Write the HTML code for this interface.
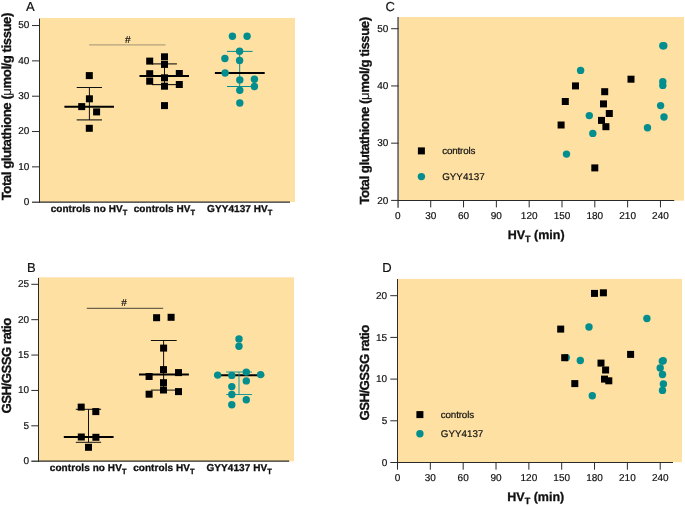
<!DOCTYPE html>
<html><head><meta charset="utf-8"><style>
html,body{margin:0;padding:0;background:#fff;}
body{width:685px;height:506px;overflow:hidden;}
svg{display:block;will-change:transform;}
text{font-family:"Liberation Sans", sans-serif;fill:#111;text-rendering:geometricPrecision;stroke:#111;stroke-width:0.2;}
.b{stroke-width:0.3;}
</style></head><body>
<svg width="685" height="506" viewBox="0 0 685 506">
<rect x="40" y="18" width="255" height="184" fill="#fde0a2"/>
<text x="26" y="10.6" font-size="13" text-anchor="start" font-weight="normal" >A</text>
<line x1="32" y1="202.2" x2="39.5" y2="202.2" stroke="#2a2a2a" stroke-width="1.2"/>
<text x="29.3" y="205.1" font-size="10" text-anchor="end" font-weight="normal" >0</text>
<line x1="32" y1="166.87" x2="39.5" y2="166.87" stroke="#2a2a2a" stroke-width="1"/>
<text x="29.3" y="169.77" font-size="10" text-anchor="end" font-weight="normal" >10</text>
<line x1="32" y1="131.54" x2="39.5" y2="131.54" stroke="#2a2a2a" stroke-width="1"/>
<text x="29.3" y="134.44" font-size="10" text-anchor="end" font-weight="normal" >20</text>
<line x1="32" y1="96.21" x2="39.5" y2="96.21" stroke="#2a2a2a" stroke-width="1"/>
<text x="29.3" y="99.11" font-size="10" text-anchor="end" font-weight="normal" >30</text>
<line x1="32" y1="60.88" x2="39.5" y2="60.88" stroke="#2a2a2a" stroke-width="1"/>
<text x="29.3" y="63.78" font-size="10" text-anchor="end" font-weight="normal" >40</text>
<line x1="32" y1="25.55" x2="39.5" y2="25.55" stroke="#2a2a2a" stroke-width="1"/>
<text x="29.3" y="28.45" font-size="10" text-anchor="end" font-weight="normal" >50</text>
<line x1="39.5" y1="18.6" x2="39.5" y2="202.8" stroke="#2a2a2a" stroke-width="1"/>
<line x1="39" y1="202.2" x2="290" y2="202.2" stroke="#2a2a2a" stroke-width="1.2"/>
<text transform="translate(11.2,200.3) rotate(-90)" font-size="13.2" letter-spacing="-0.455" font-weight="bold" class="b">Total glutathione (<tspan font-weight="normal" stroke-width="0.12">&#956;</tspan>mol/g tissue)</text>
<text x="89" y="212" font-size="10" text-anchor="middle" font-weight="bold" class="b" letter-spacing="0.07">controls no HV<tspan font-size="7.5" dy="2.6">T</tspan></text>
<text x="164.5" y="212" font-size="10" text-anchor="middle" font-weight="bold" class="b" letter-spacing="0.07">controls HV<tspan font-size="7.5" dy="2.6">T</tspan></text>
<text x="239.75" y="212" font-size="10" text-anchor="middle" font-weight="bold" class="b" letter-spacing="0.07">GYY4137 HV<tspan font-size="7.5" dy="2.6">T</tspan></text>
<line x1="89.2" y1="44.9" x2="165.5" y2="44.9" stroke="#b5a27c" stroke-width="1.3"/>
<text x="127.8" y="42.5" font-size="10" text-anchor="middle" font-weight="normal" >#</text>
<line x1="76.7" y1="87.5" x2="102" y2="87.5" stroke="#111" stroke-width="1"/>
<line x1="76.7" y1="119.9" x2="102" y2="119.9" stroke="#111" stroke-width="1.1"/>
<line x1="89.4" y1="87.5" x2="89.4" y2="119.9" stroke="#111" stroke-width="1"/>
<rect x="85.80" y="72.10" width="7.0" height="7.0" fill="#000"/>
<rect x="85.90" y="95.30" width="7.0" height="7.0" fill="#000"/>
<rect x="78.20" y="103.10" width="7.0" height="7.0" fill="#000"/>
<rect x="93.10" y="108.40" width="7.0" height="7.0" fill="#000"/>
<rect x="85.80" y="124.80" width="7.0" height="7.0" fill="#000"/>
<line x1="64.4" y1="106.8" x2="114" y2="106.8" stroke="#000" stroke-width="2"/>
<line x1="151.9" y1="63.9" x2="176.9" y2="63.9" stroke="#111" stroke-width="1.1"/>
<line x1="151.9" y1="84.6" x2="176.9" y2="84.6" stroke="#111" stroke-width="1.1"/>
<line x1="164.5" y1="63.9" x2="164.5" y2="84.6" stroke="#111" stroke-width="1"/>
<rect x="146.20" y="57.60" width="7.0" height="7.0" fill="#000"/>
<rect x="161.00" y="53.30" width="7.0" height="7.0" fill="#000"/>
<rect x="161.00" y="60.90" width="7.0" height="7.0" fill="#000"/>
<rect x="146.20" y="70.20" width="7.0" height="7.0" fill="#000"/>
<rect x="146.20" y="77.70" width="7.0" height="7.0" fill="#000"/>
<rect x="161.00" y="74.30" width="7.0" height="7.0" fill="#000"/>
<rect x="161.00" y="82.70" width="7.0" height="7.0" fill="#000"/>
<rect x="175.80" y="70.00" width="7.0" height="7.0" fill="#000"/>
<rect x="175.80" y="81.00" width="7.0" height="7.0" fill="#000"/>
<rect x="161.00" y="102.10" width="7.0" height="7.0" fill="#000"/>
<line x1="139.5" y1="76" x2="189" y2="76" stroke="#000" stroke-width="2"/>
<line x1="227" y1="51.4" x2="252.6" y2="51.4" stroke="#028e8e" stroke-width="1"/>
<line x1="227" y1="86.5" x2="252.6" y2="86.5" stroke="#028e8e" stroke-width="1"/>
<line x1="239.7" y1="51.4" x2="239.7" y2="86.5" stroke="#028e8e" stroke-width="1"/>
<line x1="214.9" y1="73" x2="264.7" y2="73" stroke="#000" stroke-width="2"/>
<circle cx="232.40" cy="36.30" r="3.7" fill="#028e8e"/>
<circle cx="247.10" cy="36.30" r="3.7" fill="#028e8e"/>
<circle cx="239.60" cy="51.30" r="3.7" fill="#028e8e"/>
<circle cx="224.90" cy="58.50" r="3.7" fill="#028e8e"/>
<circle cx="239.60" cy="60.50" r="3.7" fill="#028e8e"/>
<circle cx="225.10" cy="73.00" r="3.7" fill="#028e8e"/>
<circle cx="239.80" cy="79.90" r="3.7" fill="#028e8e"/>
<circle cx="254.40" cy="79.20" r="3.7" fill="#028e8e"/>
<circle cx="254.40" cy="86.50" r="3.7" fill="#028e8e"/>
<circle cx="239.80" cy="90.30" r="3.7" fill="#028e8e"/>
<circle cx="239.80" cy="103.00" r="3.7" fill="#028e8e"/>
<rect x="39" y="277.3" width="255" height="184" fill="#fde0a2"/>
<text x="27" y="271.8" font-size="13" text-anchor="start" font-weight="normal" >B</text>
<line x1="31.3" y1="461.2" x2="38.5" y2="461.2" stroke="#2a2a2a" stroke-width="1.3"/>
<text x="29" y="464.2" font-size="10" text-anchor="end" font-weight="normal" >0</text>
<line x1="31.3" y1="425.82" x2="38.5" y2="425.82" stroke="#2a2a2a" stroke-width="1"/>
<text x="29" y="428.82" font-size="10" text-anchor="end" font-weight="normal" >5</text>
<line x1="31.3" y1="390.44" x2="38.5" y2="390.44" stroke="#2a2a2a" stroke-width="1"/>
<text x="29" y="393.44" font-size="10" text-anchor="end" font-weight="normal" >10</text>
<line x1="31.3" y1="355.06" x2="38.5" y2="355.06" stroke="#2a2a2a" stroke-width="1"/>
<text x="29" y="358.06" font-size="10" text-anchor="end" font-weight="normal" >15</text>
<line x1="31.3" y1="319.68" x2="38.5" y2="319.68" stroke="#2a2a2a" stroke-width="1"/>
<text x="29" y="322.68" font-size="10" text-anchor="end" font-weight="normal" >20</text>
<line x1="31.3" y1="284.3" x2="38.5" y2="284.3" stroke="#2a2a2a" stroke-width="1"/>
<text x="29" y="287.3" font-size="10" text-anchor="end" font-weight="normal" >25</text>
<line x1="38.5" y1="277.9" x2="38.5" y2="461.9" stroke="#2a2a2a" stroke-width="1"/>
<line x1="38" y1="461.2" x2="289.2" y2="461.2" stroke="#2a2a2a" stroke-width="1.3"/>
<text transform="translate(10.6,413.4) rotate(-90)" font-size="13.2" letter-spacing="-0.53" font-weight="bold" class="b">GSH/GSSG ratio</text>
<text x="88.2" y="471.1" font-size="10" text-anchor="middle" font-weight="bold" class="b" letter-spacing="0.07">controls no HV<tspan font-size="7.5" dy="2.6">T</tspan></text>
<text x="163.9" y="471.1" font-size="10" text-anchor="middle" font-weight="bold" class="b" letter-spacing="0.07">controls HV<tspan font-size="7.5" dy="2.6">T</tspan></text>
<text x="239.2" y="471.1" font-size="10" text-anchor="middle" font-weight="bold" class="b" letter-spacing="0.07">GYY4137 HV<tspan font-size="7.5" dy="2.6">T</tspan></text>
<line x1="86.8" y1="308.3" x2="163.2" y2="308.3" stroke="#4a4438" stroke-width="1"/>
<text x="124" y="305.5" font-size="10" text-anchor="middle" font-weight="normal" >#</text>
<line x1="75.8" y1="409.3" x2="101.1" y2="409.3" stroke="#111" stroke-width="1"/>
<line x1="75.8" y1="442.3" x2="101.1" y2="442.3" stroke="#111" stroke-width="1"/>
<line x1="88.5" y1="409.3" x2="88.5" y2="442.3" stroke="#111" stroke-width="1"/>
<rect x="77.70" y="403.60" width="7.0" height="7.0" fill="#000"/>
<rect x="92.30" y="408.10" width="7.0" height="7.0" fill="#000"/>
<rect x="77.80" y="433.50" width="7.0" height="7.0" fill="#000"/>
<rect x="92.40" y="433.80" width="7.0" height="7.0" fill="#000"/>
<rect x="85.00" y="443.80" width="7.0" height="7.0" fill="#000"/>
<line x1="63.8" y1="437" x2="113.6" y2="437" stroke="#000" stroke-width="2"/>
<line x1="150.9" y1="340.5" x2="176.7" y2="340.5" stroke="#111" stroke-width="1"/>
<line x1="150.9" y1="390.1" x2="176.7" y2="390.1" stroke="#111" stroke-width="1"/>
<line x1="163.6" y1="340.5" x2="163.6" y2="390.1" stroke="#111" stroke-width="1"/>
<rect x="153.10" y="314.20" width="7.0" height="7.0" fill="#000"/>
<rect x="167.60" y="313.80" width="7.0" height="7.0" fill="#000"/>
<rect x="160.10" y="344.60" width="7.0" height="7.0" fill="#000"/>
<rect x="160.00" y="366.10" width="7.0" height="7.0" fill="#000"/>
<rect x="175.00" y="369.10" width="7.0" height="7.0" fill="#000"/>
<rect x="145.60" y="373.00" width="7.0" height="7.0" fill="#000"/>
<rect x="160.00" y="379.20" width="7.0" height="7.0" fill="#000"/>
<rect x="160.00" y="386.50" width="7.0" height="7.0" fill="#000"/>
<rect x="145.60" y="390.70" width="7.0" height="7.0" fill="#000"/>
<rect x="175.00" y="388.10" width="7.0" height="7.0" fill="#000"/>
<line x1="139" y1="374.5" x2="188.9" y2="374.5" stroke="#000" stroke-width="2"/>
<line x1="214.3" y1="375.3" x2="264.2" y2="375.3" stroke="#000" stroke-width="2"/>
<line x1="226.2" y1="372" x2="252" y2="372" stroke="#028e8e" stroke-width="0.9"/>
<line x1="226.2" y1="394.5" x2="252" y2="394.5" stroke="#028e8e" stroke-width="0.9"/>
<line x1="239" y1="372" x2="239" y2="394.5" stroke="#028e8e" stroke-width="0.9"/>
<circle cx="239.00" cy="338.90" r="3.7" fill="#028e8e"/>
<circle cx="239.00" cy="346.20" r="3.7" fill="#028e8e"/>
<circle cx="217.70" cy="375.10" r="3.7" fill="#028e8e"/>
<circle cx="231.80" cy="375.40" r="3.7" fill="#028e8e"/>
<circle cx="246.30" cy="372.10" r="3.7" fill="#028e8e"/>
<circle cx="260.60" cy="374.60" r="3.7" fill="#028e8e"/>
<circle cx="246.30" cy="380.90" r="3.7" fill="#028e8e"/>
<circle cx="231.80" cy="386.60" r="3.7" fill="#028e8e"/>
<circle cx="231.80" cy="394.50" r="3.7" fill="#028e8e"/>
<circle cx="246.30" cy="399.80" r="3.7" fill="#028e8e"/>
<circle cx="231.80" cy="404.70" r="3.7" fill="#028e8e"/>
<rect x="399" y="17" width="285" height="183.7" fill="#fde0a2"/>
<text x="385.6" y="10.9" font-size="13" text-anchor="start" font-weight="normal" >C</text>
<line x1="391.1" y1="200.4" x2="398.5" y2="200.4" stroke="#2a2a2a" stroke-width="1"/>
<text x="388.4" y="203.6" font-size="10" text-anchor="end" font-weight="normal" >20</text>
<line x1="391.1" y1="143.17" x2="398.5" y2="143.17" stroke="#2a2a2a" stroke-width="1"/>
<text x="388.4" y="146.37" font-size="10" text-anchor="end" font-weight="normal" >30</text>
<line x1="391.1" y1="85.94" x2="398.5" y2="85.94" stroke="#2a2a2a" stroke-width="1"/>
<text x="388.4" y="89.14" font-size="10" text-anchor="end" font-weight="normal" >40</text>
<line x1="391.1" y1="28.71" x2="398.5" y2="28.71" stroke="#2a2a2a" stroke-width="1"/>
<text x="388.4" y="31.91" font-size="10" text-anchor="end" font-weight="normal" >50</text>
<line x1="398.05" y1="17" x2="398.05" y2="207.7" stroke="#2a2a2a" stroke-width="1.2"/>
<line x1="398" y1="200.5" x2="674.2" y2="200.5" stroke="#2a2a2a" stroke-width="1.2"/>
<text x="397.9" y="218.8" font-size="10" text-anchor="middle" font-weight="normal" >0</text>
<line x1="430.72" y1="200.5" x2="430.72" y2="207.4" stroke="#2a2a2a" stroke-width="1"/>
<text x="430.72" y="218.8" font-size="10" text-anchor="middle" font-weight="normal" >30</text>
<line x1="463.54" y1="200.5" x2="463.54" y2="207.4" stroke="#2a2a2a" stroke-width="1"/>
<text x="463.54" y="218.8" font-size="10" text-anchor="middle" font-weight="normal" >60</text>
<line x1="496.36" y1="200.5" x2="496.36" y2="207.4" stroke="#2a2a2a" stroke-width="1"/>
<text x="496.36" y="218.8" font-size="10" text-anchor="middle" font-weight="normal" >90</text>
<line x1="529.18" y1="200.5" x2="529.18" y2="207.4" stroke="#2a2a2a" stroke-width="1"/>
<text x="529.18" y="218.8" font-size="10" text-anchor="middle" font-weight="normal" >120</text>
<line x1="562" y1="200.5" x2="562" y2="207.4" stroke="#2a2a2a" stroke-width="1"/>
<text x="562" y="218.8" font-size="10" text-anchor="middle" font-weight="normal" >150</text>
<line x1="594.82" y1="200.5" x2="594.82" y2="207.4" stroke="#2a2a2a" stroke-width="1"/>
<text x="594.82" y="218.8" font-size="10" text-anchor="middle" font-weight="normal" >180</text>
<line x1="627.64" y1="200.5" x2="627.64" y2="207.4" stroke="#2a2a2a" stroke-width="1"/>
<text x="627.64" y="218.8" font-size="10" text-anchor="middle" font-weight="normal" >210</text>
<line x1="660.46" y1="200.5" x2="660.46" y2="207.4" stroke="#2a2a2a" stroke-width="1"/>
<text x="660.46" y="218.8" font-size="10" text-anchor="middle" font-weight="normal" >240</text>
<text x="536.2" y="238.7" font-size="12.5" font-weight="bold" class="b" text-anchor="middle">HV<tspan font-size="9" dy="3.2">T</tspan><tspan dy="-3.2"> (min)</tspan></text>
<text transform="translate(368.6,204.6) rotate(-90)" font-size="13.2" letter-spacing="-0.455" font-weight="bold" class="b">Total glutathione (<tspan font-weight="normal" stroke-width="0.12">&#956;</tspan>mol/g tissue)</text>
<rect x="417.90" y="147.40" width="7.0" height="7.0" fill="#000"/>
<text x="442.2" y="154" font-size="9.8" text-anchor="start" font-weight="normal" letter-spacing="-0.15">controls</text>
<circle cx="421.40" cy="176.60" r="3.7" fill="#028e8e"/>
<text x="442.2" y="179.5" font-size="9.8" text-anchor="start" font-weight="normal" >GYY4137</text>
<circle cx="580.60" cy="70.40" r="3.7" fill="#028e8e"/>
<circle cx="589.30" cy="115.60" r="3.7" fill="#028e8e"/>
<circle cx="592.80" cy="133.40" r="3.7" fill="#028e8e"/>
<circle cx="566.50" cy="154.10" r="3.7" fill="#028e8e"/>
<circle cx="647.50" cy="127.70" r="3.7" fill="#028e8e"/>
<circle cx="660.60" cy="105.60" r="3.7" fill="#028e8e"/>
<circle cx="664.00" cy="117.00" r="3.7" fill="#028e8e"/>
<circle cx="662.80" cy="45.80" r="3.7" fill="#028e8e"/>
<circle cx="663.80" cy="45.80" r="3.7" fill="#028e8e"/>
<circle cx="662.80" cy="81.60" r="3.7" fill="#028e8e"/>
<circle cx="662.80" cy="85.40" r="3.7" fill="#028e8e"/>
<rect x="572.00" y="82.40" width="7.0" height="7.0" fill="#000"/>
<rect x="561.80" y="98.00" width="7.0" height="7.0" fill="#000"/>
<rect x="557.60" y="121.50" width="7.0" height="7.0" fill="#000"/>
<rect x="601.20" y="88.20" width="7.0" height="7.0" fill="#000"/>
<rect x="600.00" y="100.40" width="7.0" height="7.0" fill="#000"/>
<rect x="605.80" y="110.00" width="7.0" height="7.0" fill="#000"/>
<rect x="598.00" y="116.90" width="7.0" height="7.0" fill="#000"/>
<rect x="602.40" y="123.20" width="7.0" height="7.0" fill="#000"/>
<rect x="591.30" y="164.40" width="7.0" height="7.0" fill="#000"/>
<rect x="627.50" y="75.70" width="7.0" height="7.0" fill="#000"/>
<rect x="398" y="278.9" width="284" height="183.3" fill="#fde0a2"/>
<text x="382.3" y="271.7" font-size="13" text-anchor="start" font-weight="normal" >D</text>
<line x1="390.3" y1="462.5" x2="397.5" y2="462.5" stroke="#2a2a2a" stroke-width="1"/>
<text x="387.2" y="465.8" font-size="10" text-anchor="end" font-weight="normal" >0</text>
<line x1="390.3" y1="420.8" x2="397.5" y2="420.8" stroke="#2a2a2a" stroke-width="1"/>
<text x="387.2" y="424.1" font-size="10" text-anchor="end" font-weight="normal" >5</text>
<line x1="390.3" y1="379.1" x2="397.5" y2="379.1" stroke="#2a2a2a" stroke-width="1"/>
<text x="387.2" y="382.4" font-size="10" text-anchor="end" font-weight="normal" >10</text>
<line x1="390.3" y1="337.4" x2="397.5" y2="337.4" stroke="#2a2a2a" stroke-width="1"/>
<text x="387.2" y="340.7" font-size="10" text-anchor="end" font-weight="normal" >15</text>
<line x1="390.3" y1="295.7" x2="397.5" y2="295.7" stroke="#2a2a2a" stroke-width="1"/>
<text x="387.2" y="299" font-size="10" text-anchor="end" font-weight="normal" >20</text>
<line x1="397.5" y1="279" x2="397.5" y2="469.7" stroke="#2a2a2a" stroke-width="1"/>
<line x1="397" y1="462.5" x2="673" y2="462.5" stroke="#2a2a2a" stroke-width="1"/>
<text x="397.5" y="481.4" font-size="10" text-anchor="middle" font-weight="normal" >0</text>
<line x1="430.34" y1="462.5" x2="430.34" y2="469.7" stroke="#2a2a2a" stroke-width="1"/>
<text x="430.34" y="481.4" font-size="10" text-anchor="middle" font-weight="normal" >30</text>
<line x1="463.18" y1="462.5" x2="463.18" y2="469.7" stroke="#2a2a2a" stroke-width="1"/>
<text x="463.18" y="481.4" font-size="10" text-anchor="middle" font-weight="normal" >60</text>
<line x1="496.02" y1="462.5" x2="496.02" y2="469.7" stroke="#2a2a2a" stroke-width="1"/>
<text x="496.02" y="481.4" font-size="10" text-anchor="middle" font-weight="normal" >90</text>
<line x1="528.86" y1="462.5" x2="528.86" y2="469.7" stroke="#2a2a2a" stroke-width="1"/>
<text x="528.86" y="481.4" font-size="10" text-anchor="middle" font-weight="normal" >120</text>
<line x1="561.7" y1="462.5" x2="561.7" y2="469.7" stroke="#2a2a2a" stroke-width="1"/>
<text x="561.7" y="481.4" font-size="10" text-anchor="middle" font-weight="normal" >150</text>
<line x1="594.54" y1="462.5" x2="594.54" y2="469.7" stroke="#2a2a2a" stroke-width="1"/>
<text x="594.54" y="481.4" font-size="10" text-anchor="middle" font-weight="normal" >180</text>
<line x1="627.38" y1="462.5" x2="627.38" y2="469.7" stroke="#2a2a2a" stroke-width="1"/>
<text x="627.38" y="481.4" font-size="10" text-anchor="middle" font-weight="normal" >210</text>
<line x1="660.22" y1="462.5" x2="660.22" y2="469.7" stroke="#2a2a2a" stroke-width="1"/>
<text x="660.22" y="481.4" font-size="10" text-anchor="middle" font-weight="normal" >240</text>
<text x="535.8" y="501" font-size="12.5" font-weight="bold" class="b" text-anchor="middle">HV<tspan font-size="9" dy="3.2">T</tspan><tspan dy="-3.2"> (min)</tspan></text>
<text transform="translate(369.2,420.5) rotate(-90)" font-size="13.2" letter-spacing="-0.53" font-weight="bold" class="b">GSH/GSSG ratio</text>
<rect x="416.40" y="411.10" width="7.0" height="7.0" fill="#000"/>
<text x="440.8" y="418.2" font-size="9.8" text-anchor="start" font-weight="normal" letter-spacing="-0.15">controls</text>
<circle cx="419.90" cy="433.80" r="3.7" fill="#028e8e"/>
<text x="440.8" y="436.8" font-size="9.8" text-anchor="start" font-weight="normal" >GYY4137</text>
<circle cx="589.00" cy="327.00" r="3.7" fill="#028e8e"/>
<circle cx="646.90" cy="318.50" r="3.7" fill="#028e8e"/>
<circle cx="580.30" cy="360.50" r="3.7" fill="#028e8e"/>
<circle cx="566.30" cy="357.60" r="3.7" fill="#028e8e"/>
<circle cx="592.30" cy="395.80" r="3.7" fill="#028e8e"/>
<circle cx="662.30" cy="361.10" r="3.7" fill="#028e8e"/>
<circle cx="663.20" cy="360.80" r="3.7" fill="#028e8e"/>
<circle cx="660.20" cy="368.00" r="3.7" fill="#028e8e"/>
<circle cx="662.50" cy="374.50" r="3.7" fill="#028e8e"/>
<circle cx="663.40" cy="384.00" r="3.7" fill="#028e8e"/>
<circle cx="662.50" cy="390.40" r="3.7" fill="#028e8e"/>
<rect x="591.00" y="289.90" width="7.0" height="7.0" fill="#000"/>
<rect x="599.90" y="289.30" width="7.0" height="7.0" fill="#000"/>
<rect x="557.20" y="325.60" width="7.0" height="7.0" fill="#000"/>
<rect x="561.20" y="354.20" width="7.0" height="7.0" fill="#000"/>
<rect x="627.10" y="350.90" width="7.0" height="7.0" fill="#000"/>
<rect x="597.50" y="359.60" width="7.0" height="7.0" fill="#000"/>
<rect x="602.10" y="366.50" width="7.0" height="7.0" fill="#000"/>
<rect x="601.00" y="375.60" width="7.0" height="7.0" fill="#000"/>
<rect x="605.30" y="377.30" width="7.0" height="7.0" fill="#000"/>
<rect x="571.30" y="380.10" width="7.0" height="7.0" fill="#000"/>
</svg>
</body></html>
